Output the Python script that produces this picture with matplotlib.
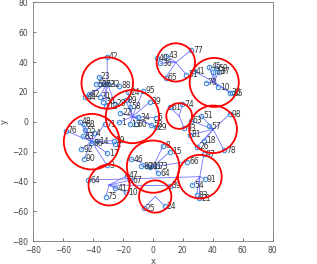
import matplotlib
matplotlib.use('Agg')
import matplotlib.pyplot as plt
from matplotlib.patches import Circle

# facility centres and coverage radii (one per cluster)
center_x = [-30.4, -13.6, -40.8, 15.4, 41.0, 17.6, 40.3, 0.2, 31.4, -29.2, 1.6]
center_y = [26.0, 3.5, -13.3, 39.8, 26.4, 3.9, -5.0, -30.0, -36.7, -42.3, -50.0]
radius = [17.2, 17.8, 18.6, 12.8, 16.4, 8.6, 15.9, 17.5, 14.6, 13.7, 10.8]

# demand points: label, x, y, cluster index
point_labels = [42, 23, 88, 50, 27, 62, 32, 82, 44, 31, 30, 12, 28,
                24, 95, 89, 58, 39, 22, 1, 34, 13, 60, 5, 52, 29,
                76, 48, 68, 55, 83, 4, 71, 14, 86, 92, 90, 17, 19, 2, 3,
                77, 43, 40, 36, 65, 51,
                41, 45, 59, 33, 37, 70, 10, 35, 85,
                61, 74, 93,
                98, 51, 63, 57, 81, 18, 26, 78,
                8, 15, 46, 80, 20, 11, 73, 64,
                66, 97, 91, 54, 83, 21,
                64, 47, 67, 41, 10, 75,
                39, 25, 24]
point_x = [-30.5, -35.9, -22.5, -38.1, -35.5, -32.8, -29.9, -42.6, -45.2, -35.5, -33.2, -31.4, -25.4,
           -16.5, -6.5, -18.1, -15.4, -2.0, -21.6, -22.7, -9.8, -15.4, -11.4, 2.0, -0.9, 2.0,
           -58.2, -48.8, -46.1, -45.5, -46.6, -39.4, -32.1, -37.0, -41.0, -47.7, -45.9, -30.5, -26.1, -25.4, -30.5,
           25.8, 9.1, 2.9, 5.1, 8.5, 22.5,
           27.5, 37.7, 42.3, 40.5, 43.9, 35.4, 43.7, 51.5, 52.8,
           11.4, 19.8, 21.0,
           51.5, 32.5, 25.4, 37.7, 24.7, 34.1, 29.6, 47.5,
           6.9, 11.4, -14.3, -7.6, -4.2, -1.6, 2.5, 3.6,
           23.0, 34.1, 34.8, 26.5, 29.2, 31.0,
           -43.2, -17.2, -14.9, -25.0, -17.6, -31.4,
           11.4, -6.0, 8.0]
point_y = [43.6, 30.2, 24.0, 25.3, 25.3, 25.3, 25.3, 18.4, 16.4, 16.8, 13.5, 10.6, 12.1,
           19.7, 20.8, 14.6, 10.1, 13.3, 6.1, -0.4, 3.0, -1.7, -1.7, 2.8, -2.1, -3.7,
           -5.9, 0.1, -1.5, -5.5, -9.5, -7.7, -1.5, -13.1, -14.3, -18.4, -24.7, -21.1, -12.6, -14.9, -29.2,
           48.1, 44.1, 42.5, 39.2, 29.6, 31.4,
           34.0, 37.0, 35.8, 33.6, 33.6, 26.2, 23.1, 19.5, 19.3,
           9.7, 11.9, -4.4,
           5.2, 4.1, 0.8, -2.8, -8.8, -12.6, -16.6, -18.9,
           -16.0, -20.0, -25.1, -29.6, -29.6, -30.0, -29.6, -34.5,
           -26.7, -21.6, -38.5, -42.3, -49.0, -51.2,
           -39.0, -36.1, -39.0, -44.6, -47.2, -50.1,
           -42.8, -57.9, -56.4]
point_cluster = [0] * 13 + [1] * 13 + [2] * 15 + [3] * 6 + [4] * 9 + [5] * 3 + \
                [6] * 8 + [7] * 9 + [8] * 6 + [9] * 6 + [10] * 3

fig = plt.figure(figsize=(3.17, 2.64), dpi=100)
ax = fig.add_axes([0.104, 0.086, 0.756, 0.905])

# assignment lines from each facility to its points
for lab, x, y, c in zip(point_labels, point_x, point_y, point_cluster):
    ax.plot([center_x[c], x], [center_y[c], y], color=(0.35, 0.35, 1.0), lw=0.6, alpha=0.85, zorder=1)

ax.plot(point_x, point_y, 'o', ms=3.2, mfc='none', mec='#3f8fd8', mew=0.8, zorder=2)
for lab, x, y in zip(point_labels, point_x, point_y):
    ax.text(x + 1.3, y, str(lab), fontsize=5.5, color='#333333', va='center', ha='left', zorder=3)

for cx, cy, r in zip(center_x, center_y, radius):
    ax.add_patch(Circle((cx, cy), r, fill=False, ec='red', lw=1.3, zorder=4))

ax.set_xlim(-80, 80)
ax.set_ylim(-80, 80)
ax.set_xticks(range(-80, 81, 20))
ax.set_yticks(range(-80, 81, 20))
ax.tick_params(labelsize=5.5, colors='#444444', direction='in', length=2, width=0.5)
for s in ax.spines.values():
    s.set_color('#777777')
    s.set_linewidth(0.6)
ax.set_xlabel('x', fontsize=6, color='#444444', labelpad=1)
ax.set_ylabel('y', fontsize=6, color='#444444', labelpad=2)

plt.savefig('out.png', dpi=100)
